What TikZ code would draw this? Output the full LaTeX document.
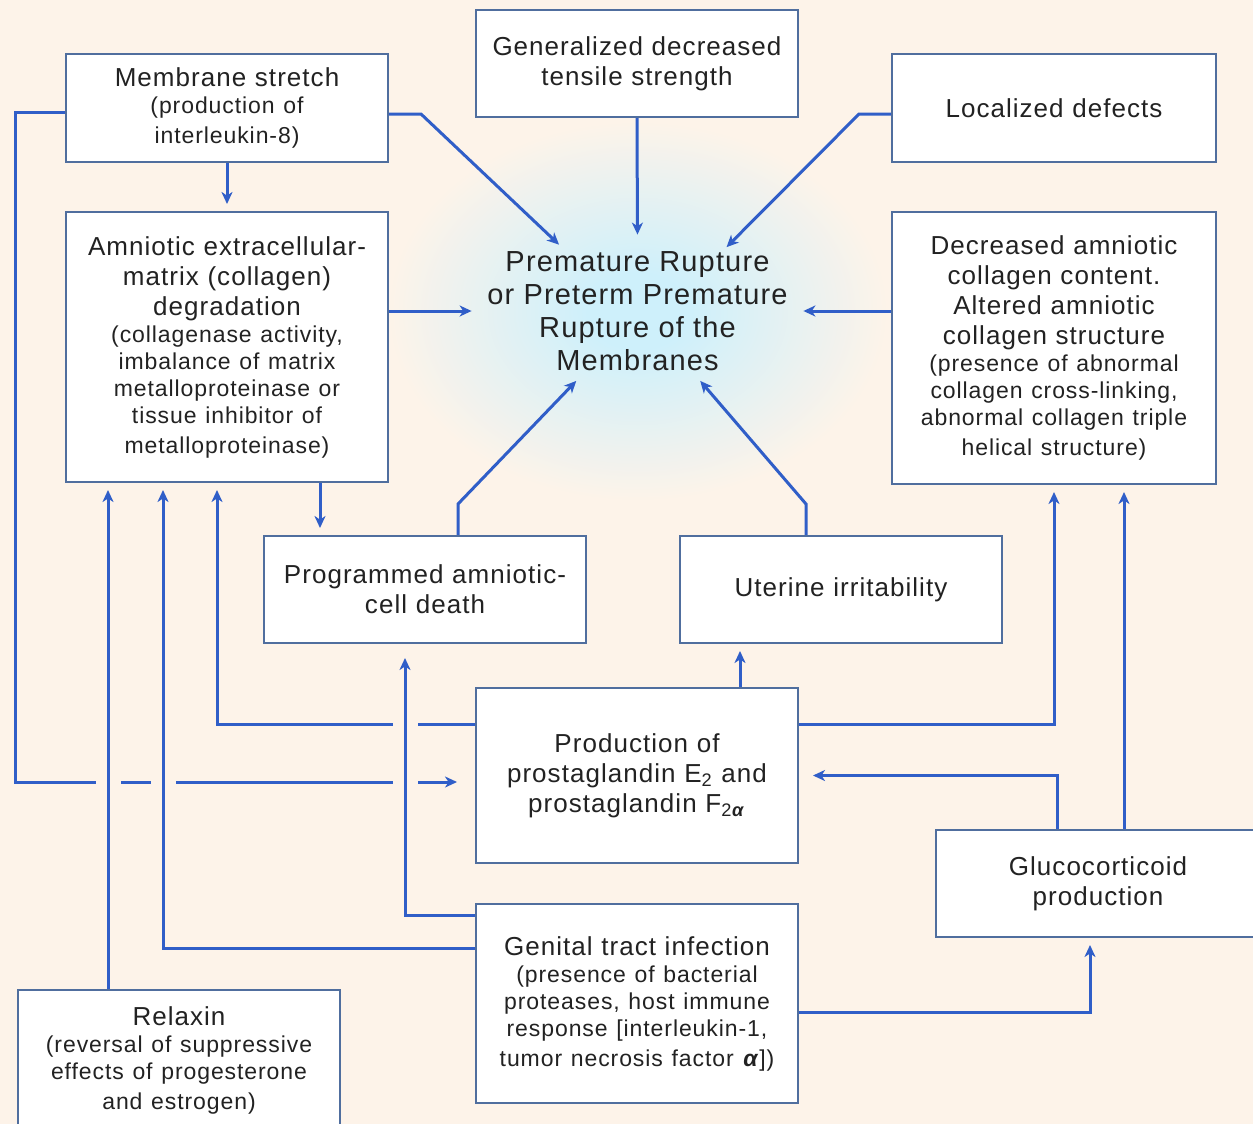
\documentclass[tikz,border=0pt]{standalone}
\usepackage{fontspec}
\setmainfont{Liberation Sans}[LetterSpace=4]
\usepackage{xcolor}
\usepackage{tikz}
\usetikzlibrary{shapes.geometric, arrows.meta, positioning, backgrounds}
\definecolor{pagebg}{RGB}{253,243,233}
\definecolor{boxline}{RGB}{80,110,158}
\definecolor{linkblue}{RGB}{48,94,200}
\definecolor{inktext}{RGB}{34,34,34}
\definecolor{glowblue}{RGB}{206,240,251}
\pgfdeclareradialshading{promglow}{\pgfpoint{0bp}{0bp}}{color(0bp)=(glowblue); color(5bp)=(glowblue); color(25bp)=(pagebg); color(50bp)=(pagebg)}
\newcommand{\detail}{\fontsize{11.5}{13.5}\selectfont}
\tikzset{
    base/.style={draw=boxline, line width=1pt, fill=white, align=center, text=inktext, inner sep=0pt, text width=155pt, minimum width=161pt, font=\fontsize{13}{15}\selectfont},
    cause/.style={base, rectangle, minimum height=53.5pt},
    hub/.style={align=center, text=inktext, font=\fontsize{14.5}{16.5}\selectfont},
    arrow/.style={line width=1.5pt, draw=linkblue, -{Stealth[length=6pt, width=5.5pt, inset=1.8pt]}, shorten >=3.5pt},
    bridge/.style={arrow, preaction={draw=pagebg, line width=12.5pt, -}}
}

\begin{document}
\begin{tikzpicture}[x=0.5pt, y=-0.5pt]
        \useasboundingbox (0,0) rectangle (1253,1124);
        % Nodes
        \node (ms) [cause, minimum height=54pt] at (227,108) {Membrane stretch\par\detail (production of\\interleukin-8)};
        \node (gen) [cause] at (637,63.5) {Generalized decreased\\tensile strength};
        \node (loc) [cause, minimum width=162pt, minimum height=54pt] at (1054,108) {Localized defects};
        \node (amn) [cause, minimum height=135pt] at (227,347) {Amniotic extracellular-\\matrix (collagen)\\degradation\par\detail (collagenase activity,\\imbalance of matrix\\metalloproteinase or\\tissue inhibitor of\\metalloproteinase)};
        \node (dec) [cause, minimum width=162pt, minimum height=136pt] at (1054,348) {Decreased amniotic\\collagen content.\\Altered amniotic\\collagen structure\par\detail (presence of abnormal\\collagen cross-linking,\\abnormal collagen triple\\helical structure)};
        \node (prom) [ellipse, minimum width=158.5pt, minimum height=69pt, inner sep=0pt,
            label={[hub]center:Premature Rupture\\or Preterm Premature\\Rupture of the\\Membranes}] at (637.5,311) {};
        \node (prog) [cause] at (425,589.5) {Programmed amniotic-\\cell death};
        \node (ute) [cause] at (841,589.5) {Uterine irritability};
        \node (prod) [cause, minimum height=87.5pt] at (637,775.5) {Production of\\prostaglandin E\textsubscript{2} and\\prostaglandin F\textsubscript{2\textbf{\textit{α}}}};
        \node (glu) [cause, minimum width=162pt] at (1098,883.5) {Glucocorticoid\\production};
        \node (inf) [cause, minimum height=99.5pt] at (637,1003.5) {Genital tract infection\par\detail (presence of bacterial\\proteases, host immune\\response [interleukin-1,\\tumor necrosis factor \textbf{\textit{α}}])};
        \node (rel) [cause, minimum height=70pt] at (179,1060) {Relaxin\par\detail (reversal of suppressive\\effects of progesterone\\and estrogen)};

        \begin{pgfonlayer}{background}
        \fill [pagebg] (0,0) rectangle (1253,1124);
        \shade [shading=promglow] (prom.center) ellipse [x radius=125pt, y radius=95pt];

        % Arrows into the centre
        \draw [arrow] ([yshift=-3pt]ms.east) -- ++(32,0) -- (prom.140.6);
        \draw [arrow] (gen.south) -- (prom.north);
        \draw [arrow] ([yshift=-3pt]loc.west) -- ++(-32,0) -- (prom.35);
        \draw [arrow] (prom.west -| amn.east) -- (prom.west);
        \draw [arrow] (prom.east -| dec.west) -- (prom.east);
        \draw [arrow] ([xshift=16.5pt]prog.north) -- ++(0,-31) -- (prom.229);
        \draw [arrow] ([xshift=-17.5pt]ute.north) -- ++(0,-31) -- (prom.312);

        % Arrows between boxes
        \draw [arrow] (ms.south) -- (amn.north);
        \draw [arrow] ([xshift=46.5pt]amn.south) -- ([xshift=-52.5pt]prog.north);
        \draw [arrow] ([xshift=51.5pt]prod.north) -- ([xshift=-50.5pt]ute.south);
        \draw [arrow] ([yshift=25.75pt]prod.west) -| ([xshift=-5pt]amn.south);
        \draw [arrow] ([yshift=25.75pt]prod.east) -| (dec.south);
        \draw [arrow, shorten >=9pt] ([yshift=-2pt]ms.west) -- ++(-50,0) |- ([yshift=-3.25pt]prod.west);
        \draw [arrow, shorten >=7pt] ([xshift=-20.5pt]glu.north) |- (prod.east);
        \draw [arrow] ([xshift=13pt]glu.north) -- ([xshift=35pt]dec.south);
        \draw [arrow] ([yshift=-4.25pt]inf.east) -| ([xshift=-4pt]glu.south);

        % Lines that jump over the two horizontals
        \draw [bridge, shorten >=7pt] ([yshift=44.25pt]inf.west) -| ([xshift=-10pt]prog.south);
        \draw [bridge] ([yshift=27.75pt]inf.west) -| ([xshift=-32pt]amn.south);
        \draw [bridge] ([xshift=-35.5pt]rel.north) -- ([xshift=-59.5pt]amn.south);
        \end{pgfonlayer}
    \end{tikzpicture}
\end{document}
